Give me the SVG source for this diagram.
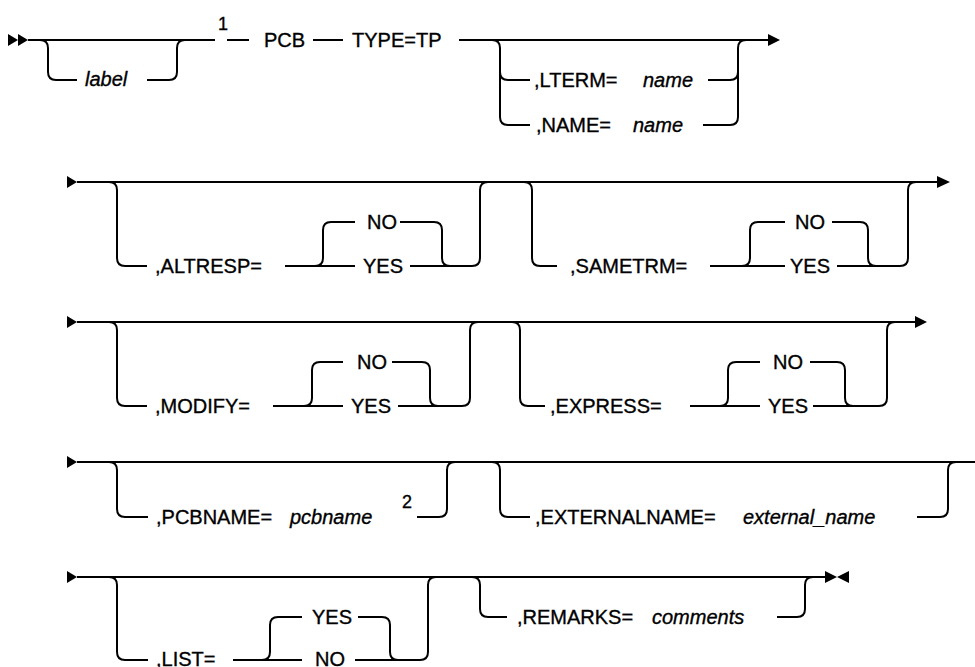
<svg xmlns="http://www.w3.org/2000/svg" width="975" height="667" viewBox="0 0 975 667">
<style>
.ln{fill:none;stroke:#000;stroke-width:2}
.ah{fill:#000}
text{font-family:"Liberation Sans",Arial,sans-serif;font-size:20px;fill:#000;stroke:#000;stroke-width:0.35}
.it{font-style:italic}
.sup{font-size:18px}
</style>
<rect width="975" height="667" fill="#fff"/>
<g id="connectors">
<!-- row 1 -->
<polygon class="ah" points="8,34 18,40 8,46"/>
<polygon class="ah" points="18,34 28,40 18,46"/>
<path class="ln" d="M28 40 H215 M227 40 H249 M313 40 H343 M459 40 H768"/>
<polygon class="ah" points="768,34 780,40 768,46"/>
<path class="ln" d="M40 40 Q48 40 48 48 V72 Q48 80 56 80 H77 M147 80 H169 Q177 80 177 72 V48 Q177 40 185 40"/>
<path class="ln" d="M492 40 Q500 40 500 48 V117 Q500 125 508 125 H530 M500 72 Q500 80 508 80 H530"/>
<path class="ln" d="M708 80 H730 Q738 80 738 72 V48 Q738 40 746 40 M703 125 H730 Q738 125 738 117 V72"/>
<!-- row 2 -->
<polygon class="ah" points="67,176 77,182 67,188"/>
<path class="ln" d="M77 182 H937"/>
<polygon class="ah" points="937,176 950,182 937,188"/>
<path class="ln" d="M109 182 Q117 182 117 190 V258 Q117 266 125 266 H147"/>
<path class="ln" d="M285 266 H355 M315 266 Q323 266 323 258 V230 Q323 222 331 222 H355"/>
<path class="ln" d="M400 222 H434 Q442 222 442 230 V258 Q442 266 450 266 M410 266 H472 Q480 266 480 258 V190 Q480 182 488 182"/>
<path class="ln" d="M524 182 Q532 182 532 190 V258 Q532 266 540 266 H557"/>
<path class="ln" d="M710 266 H785 M742 266 Q750 266 750 258 V230 Q750 222 758 222 H785"/>
<path class="ln" d="M832 222 H860 Q868 222 868 230 V258 Q868 266 876 266 M837 266 H900 Q908 266 908 258 V190 Q908 182 916 182"/>
<!-- row 3 -->
<polygon class="ah" points="67,316 77,322 67,328"/>
<path class="ln" d="M77 322 H915"/>
<polygon class="ah" points="915,316 927,322 915,328"/>
<path class="ln" d="M109 322 Q117 322 117 330 V398 Q117 406 125 406 H147"/>
<path class="ln" d="M273 406 H343 M304 406 Q312 406 312 398 V370 Q312 362 320 362 H343"/>
<path class="ln" d="M392 362 H422 Q430 362 430 370 V398 Q430 406 438 406 M398 406 H462 Q470 406 470 398 V330 Q470 322 478 322"/>
<path class="ln" d="M512 322 Q520 322 520 330 V398 Q520 406 528 406 H545"/>
<path class="ln" d="M690 406 H760 M720 406 Q728 406 728 398 V370 Q728 362 736 362 H760"/>
<path class="ln" d="M810 362 H837 Q845 362 845 370 V398 Q845 406 853 406 M813 406 H879 Q887 406 887 398 V330 Q887 322 895 322"/>
<!-- row 4 -->
<polygon class="ah" points="67,456 77,462 67,468"/>
<path class="ln" d="M77 462 H975"/>
<path class="ln" d="M109 462 Q117 462 117 470 V509 Q117 517 125 517 H148 M417 517 H439 Q447 517 447 509 V470 Q447 462 455 462"/>
<path class="ln" d="M492 462 Q500 462 500 470 V509 Q500 517 508 517 H530 M917 517 H940 Q948 517 948 509 V470 Q948 462 956 462"/>
<!-- row 5 -->
<polygon class="ah" points="67,571 77,577 67,583"/>
<path class="ln" d="M77 577 H826"/>
<path class="ln" d="M109 577 Q117 577 117 585 V652 Q117 660 125 660 H148"/>
<path class="ln" d="M233 660 H302 M262 660 Q270 660 270 652 V625 Q270 617 278 617 H302"/>
<path class="ln" d="M358 617 H382 Q390 617 390 625 V652 Q390 660 398 660 M355 660 H420 Q428 660 428 652 V585 Q428 577 436 577"/>
<path class="ln" d="M472 577 Q480 577 480 585 V609 Q480 617 488 617 H507 M777 617 H797 Q805 617 805 609 V585 Q805 577 813 577"/>
<polygon class="ah" points="825,571 837,577 825,583"/>
<polygon class="ah" points="849,571 837,577 849,583"/>
</g>
<g id="n-label"><text class="it" x="85" y="86">label</text></g>
<g id="n-note1"><text class="sup" x="218" y="30">1</text></g>
<g id="n-pcb"><text x="264" y="47">PCB</text></g>
<g id="n-type"><text x="352" y="47">TYPE=TP</text></g>
<g id="n-lterm"><text x="534" y="87">,LTERM=</text><text class="it" x="643" y="87">name</text></g>
<g id="n-name"><text x="536" y="132">,NAME=</text><text class="it" x="633" y="132">name</text></g>
<g id="n-altresp"><text x="155" y="273">,ALTRESP=</text></g>
<g id="n-altresp-no"><text x="367" y="229">NO</text></g>
<g id="n-altresp-yes"><text x="363" y="273">YES</text></g>
<g id="n-sametrm"><text x="570" y="273">,SAMETRM=</text></g>
<g id="n-sametrm-no"><text x="795" y="229">NO</text></g>
<g id="n-sametrm-yes"><text x="790" y="273">YES</text></g>
<g id="n-modify"><text x="155" y="413">,MODIFY=</text></g>
<g id="n-modify-no"><text x="357" y="369">NO</text></g>
<g id="n-modify-yes"><text x="351" y="413">YES</text></g>
<g id="n-express"><text x="550" y="413">,EXPRESS=</text></g>
<g id="n-express-no"><text x="773" y="369">NO</text></g>
<g id="n-express-yes"><text x="768" y="413">YES</text></g>
<g id="n-pcbname"><text x="156" y="524">,PCBNAME=</text><text class="it" x="290" y="524">pcbname</text></g>
<g id="n-note2"><text class="sup" x="402" y="508">2</text></g>
<g id="n-extname"><text x="535" y="524">,EXTERNALNAME=</text><text class="it" x="743" y="524">external_name</text></g>
<g id="n-list"><text x="156" y="666">,LIST=</text></g>
<g id="n-list-yes"><text x="312" y="624">YES</text></g>
<g id="n-list-no"><text x="315" y="666">NO</text></g>
<g id="n-remarks"><text x="517" y="624">,REMARKS=</text><text class="it" x="652" y="624">comments</text></g>
</svg>
